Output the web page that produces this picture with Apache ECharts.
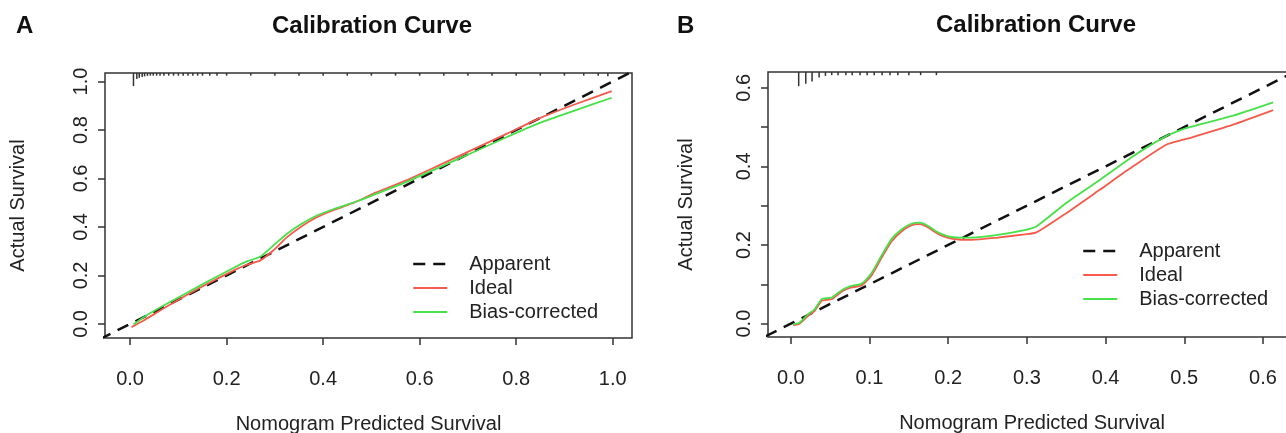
<!DOCTYPE html>
<html>
<head>
<meta charset="utf-8">
<script src="https://cdn.jsdelivr.net/npm/echarts@6/dist/echarts.min.js"></script>
<style>
  html, body { margin: 0; padding: 0; background: #fff; }
  #chart { width: 1286px; height: 433px; }
</style>
</head>
<body>
<div id="chart"></div>
<script>
// ---- data ----
var seriesNames = ['Apparent', 'Ideal', 'Bias-corrected'];

// panel A
var ticksA = [0, 0.2, 0.4, 0.6, 0.8, 1.0];
var apparentA = [[-0.1, -0.1], [1.1, 1.1]];
var idealA = [[0.003, -0.013], [0.028, 0.014], [0.076, 0.072], [0.145, 0.149], [0.214, 0.220],
  [0.242, 0.244], [0.269, 0.261], [0.296, 0.302], [0.324, 0.356], [0.352, 0.398], [0.386, 0.439],
  [0.421, 0.469], [0.472, 0.507], [0.503, 0.537], [0.572, 0.592], [0.642, 0.656], [0.711, 0.720],
  [0.780, 0.784], [0.849, 0.849], [0.918, 0.903], [0.998, 0.960]];
var biasA = [[0.007, -0.002], [0.028, 0.028], [0.076, 0.083], [0.145, 0.158], [0.214, 0.231],
  [0.242, 0.258], [0.269, 0.277], [0.296, 0.322], [0.324, 0.370], [0.352, 0.409], [0.386, 0.446],
  [0.421, 0.473], [0.472, 0.507], [0.503, 0.531], [0.572, 0.585], [0.642, 0.647], [0.711, 0.708],
  [0.780, 0.770], [0.849, 0.829], [0.918, 0.878], [0.998, 0.933]];
// rug of predictions along the top: [x, tick length]
var rugA = [[0.007, 0.054], [0.014, 0.025], [0.019, 0.02], [0.025, 0.016], [0.030, 0.014],
  [0.036, 0.012], [0.042, 0.011], [0.048, 0.011], [0.055, 0.011], [0.062, 0.011], [0.070, 0.011],
  [0.080, 0.011], [0.090, 0.011], [0.100, 0.011], [0.110, 0.011], [0.120, 0.011], [0.130, 0.011],
  [0.140, 0.011], [0.150, 0.011], [0.165, 0.011], [0.18, 0.011], [0.2, 0.011], [0.25, 0.011],
  [0.3, 0.011], [0.35, 0.011], [0.4, 0.011], [0.45, 0.011], [0.5, 0.011], [0.55, 0.011],
  [0.6, 0.011], [0.65, 0.011], [0.7, 0.011], [0.75, 0.011], [0.8, 0.011], [0.85, 0.011],
  [0.9, 0.011], [0.94, 0.011], [0.97, 0.011], [0.99, 0.013]];

// panel B
var ticksB = [0, 0.1, 0.2, 0.3, 0.4, 0.5, 0.6];
var yLabelsB = [0, 0.2, 0.4, 0.6];
var apparentB = [[-0.1, -0.1], [0.7, 0.7]];
var idealB = [[0.003, -0.004], [0.011, 0.0], [0.022, 0.020], [0.030, 0.032], [0.039, 0.058],
  [0.043, 0.060], [0.052, 0.062], [0.058, 0.071], [0.066, 0.083], [0.077, 0.092], [0.088, 0.096],
  [0.094, 0.104], [0.103, 0.124], [0.115, 0.166], [0.128, 0.209], [0.141, 0.235], [0.153, 0.250],
  [0.164, 0.253], [0.174, 0.245], [0.187, 0.228], [0.200, 0.218], [0.213, 0.214], [0.230, 0.213],
  [0.263, 0.219], [0.297, 0.227], [0.312, 0.232], [0.350, 0.281], [0.393, 0.341], [0.435, 0.400],
  [0.477, 0.455], [0.499, 0.468], [0.507, 0.472], [0.562, 0.506], [0.613, 0.543]];
var biasB = [[0.003, -0.002], [0.011, 0.002], [0.022, 0.024], [0.030, 0.036], [0.039, 0.062],
  [0.043, 0.064], [0.052, 0.066], [0.058, 0.075], [0.066, 0.087], [0.077, 0.096], [0.088, 0.100],
  [0.094, 0.108], [0.103, 0.130], [0.115, 0.172], [0.128, 0.215], [0.141, 0.240], [0.153, 0.254],
  [0.164, 0.257], [0.174, 0.249], [0.187, 0.232], [0.200, 0.222], [0.213, 0.219], [0.230, 0.219],
  [0.263, 0.226], [0.297, 0.238], [0.312, 0.247], [0.350, 0.307], [0.393, 0.366], [0.435, 0.426],
  [0.477, 0.477], [0.499, 0.495], [0.507, 0.500], [0.562, 0.529], [0.613, 0.563]];
var rugB = [[0.010, 0.036], [0.019, 0.030], [0.027, 0.024], [0.036, 0.014], [0.044, 0.010],
  [0.052, 0.008], [0.060, 0.008], [0.070, 0.008], [0.078, 0.008], [0.088, 0.008], [0.097, 0.008],
  [0.106, 0.008], [0.116, 0.008], [0.126, 0.008], [0.136, 0.008], [0.150, 0.008], [0.165, 0.008],
  [0.185, 0.008]];

// ---- chart ----
var FONT = '"Liberation Sans", Arial, sans-serif';
var INK = '#222';
var RED = '#f55a4c';
var GREEN = '#48e048';

var rangeA = { xmin: -0.052, xmax: 1.04, ymin: -0.058, ymax: 1.035 };
var rangeB = { xmin: -0.029, xmax: 0.642, ymin: -0.034, ymax: 0.64 };

var myChart = echarts.init(document.getElementById('chart'));

function fmt(v) { return v.toFixed(1); }

function xAxisFor(idx, r, ticks) {
  return {
    type: 'value', gridIndex: idx, min: r.xmin, max: r.xmax,
    name: 'Nomogram Predicted Survival', nameLocation: 'middle', nameGap: 76,
    nameTextStyle: { fontFamily: FONT, fontSize: 20, color: INK },
    axisLine: { show: false, onZero: false },
    splitLine: { show: false },
    axisTick: { show: true, customValues: ticks, length: 7, lineStyle: { color: '#333', width: 1.5 } },
    axisLabel: { customValues: ticks, formatter: fmt, margin: 31, fontFamily: FONT, fontSize: 20, color: INK }
  };
}

function yAxisFor(idx, r, ticks, labels, gap) {
  return {
    type: 'value', gridIndex: idx, min: r.ymin, max: r.ymax,
    name: 'Actual Survival', nameLocation: 'middle', nameGap: gap, nameRotate: 90,
    nameTextStyle: { fontFamily: FONT, fontSize: 20, color: INK },
    axisLine: { show: false, onZero: false },
    splitLine: { show: false },
    axisTick: { show: true, customValues: ticks, length: 7, lineStyle: { color: '#333', width: 1.5 } },
    axisLabel: { customValues: labels, formatter: fmt, rotate: 90, margin: 14, fontFamily: FONT, fontSize: 20, color: INK }
  };
}

function rugRenderer(ymax) {
  return function (params, api) {
    var x = api.value(0), len = api.value(1);
    var p1 = api.coord([x, ymax]);
    var p2 = api.coord([x, ymax - len]);
    return {
      type: 'line',
      shape: { x1: p1[0], y1: p1[1], x2: p2[0], y2: p2[1] },
      style: { stroke: '#333', lineWidth: 1.5 }
    };
  };
}

function panelSeries(idx, apparent, ideal, bias, rug, ymax) {
  return [
    {
      name: 'Apparent', type: 'line', xAxisIndex: idx, yAxisIndex: idx, data: apparent,
      symbol: 'none', silent: true, z: 3,
      lineStyle: { color: '#111', width: 2.5, type: [12, 8] }, itemStyle: { color: '#111' }
    },
    {
      name: 'Ideal', type: 'line', xAxisIndex: idx, yAxisIndex: idx, data: ideal,
      symbol: 'none', smooth: 0.2, silent: true, z: 4,
      lineStyle: { color: RED, width: 1.8 }, itemStyle: { color: RED }
    },
    {
      name: 'Bias-corrected', type: 'line', xAxisIndex: idx, yAxisIndex: idx, data: bias,
      symbol: 'none', smooth: 0.2, silent: true, z: 5,
      lineStyle: { color: GREEN, width: 1.8 }, itemStyle: { color: GREEN }
    },
    {
      type: 'custom', xAxisIndex: idx, yAxisIndex: idx, data: rug, silent: true,
      renderItem: rugRenderer(ymax)
    }
  ];
}

function legendAt(left, top) {
  return {
    data: [
      { name: seriesNames[0], itemStyle: { opacity: 0 }, lineStyle: { color: '#111', width: 2.5, type: [12, 8] } },
      { name: seriesNames[1], itemStyle: { opacity: 0 }, lineStyle: { color: RED, width: 1.8 } },
      { name: seriesNames[2], itemStyle: { opacity: 0 }, lineStyle: { color: GREEN, width: 1.8 } }
    ],
    orient: 'vertical', left: left, top: top, padding: 0,
    itemWidth: 34, itemHeight: 14, itemGap: 4, selectedMode: false,
    textStyle: { fontFamily: FONT, fontSize: 20, color: INK, lineHeight: 20, padding: [0, 0, 0, 17] }
  };
}

var option = {
  animation: false,
  backgroundColor: '#fff',
  title: [
    { text: 'A', left: 11, top: 9, textStyle: { fontFamily: FONT, fontSize: 24, fontWeight: 'bold', color: '#111' } },
    { text: 'B', left: 672, top: 9, textStyle: { fontFamily: FONT, fontSize: 24, fontWeight: 'bold', color: '#111' } },
    { text: 'Calibration Curve', left: 367, top: 9, textAlign: 'center', textStyle: { fontFamily: FONT, fontSize: 24, fontWeight: 'bold', color: '#111' } },
    { text: 'Calibration Curve', left: 1031, top: 8, textAlign: 'center', textStyle: { fontFamily: FONT, fontSize: 24, fontWeight: 'bold', color: '#111' } }
  ],
  legend: [legendAt(412, 254), legendAt(1082, 241)],
  grid: [
    { left: 105, top: 73, width: 527, height: 265, outerBoundsMode: 'none', show: true, borderColor: '#333', borderWidth: 1.5 },
    { left: 768, top: 72, width: 528, height: 265, outerBoundsMode: 'none', show: true, borderColor: '#333', borderWidth: 1.5 }
  ],
  xAxis: [xAxisFor(0, rangeA, ticksA), xAxisFor(1, rangeB, ticksB)],
  yAxis: [yAxisFor(0, rangeA, ticksA, ticksA, 77), yAxisFor(1, rangeB, ticksB, yLabelsB, 72)],
  series: panelSeries(0, apparentA, idealA, biasA, rugA, rangeA.ymax)
    .concat(panelSeries(1, apparentB, idealB, biasB, rugB, rangeB.ymax))
};

myChart.setOption(option);
window.addEventListener('resize', function () {
  myChart.resize();
});
</script>
</body>
</html>
